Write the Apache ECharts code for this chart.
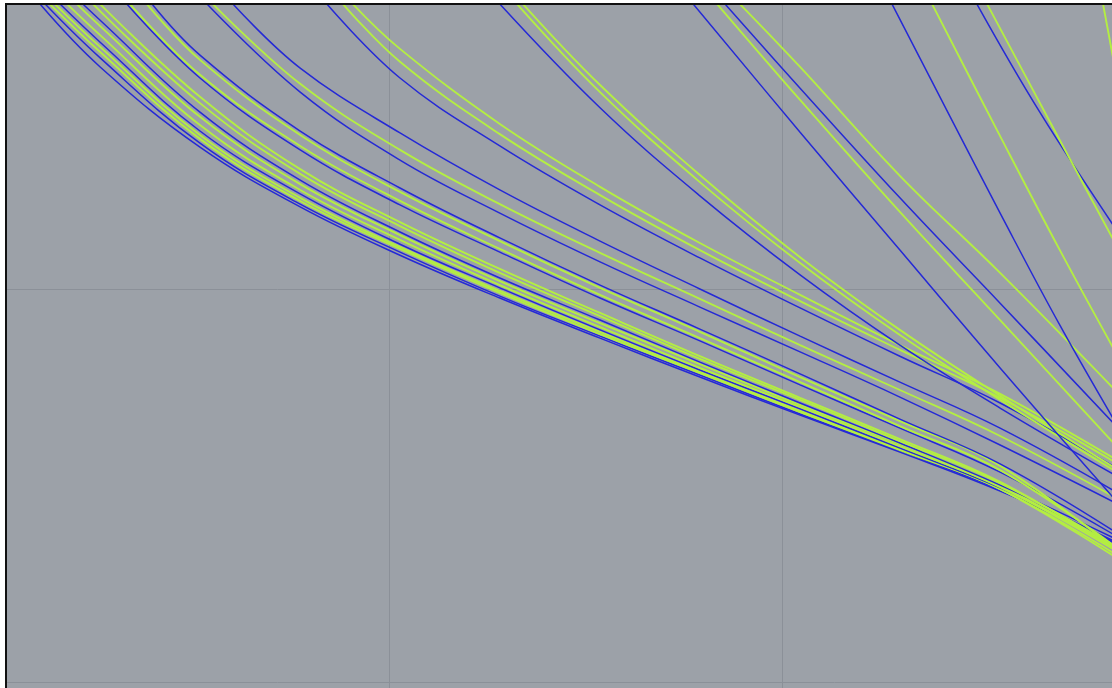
<!DOCTYPE html>
<html>
<head>
<meta charset="utf-8">
<script src="https://cdn.jsdelivr.net/npm/echarts@6/dist/echarts.min.js"></script>
<style>
  html, body { margin: 0; padding: 0; background: #fff; overflow: hidden; }
  #frame {
    position: absolute; left: 5px; top: 3px;
    width: 1105px; height: 683px;
    border-left: 2px solid #111; border-top: 2px solid #111;
    background: #9ca1a8; overflow: hidden;
  }
  #main { position: absolute; left: -7px; top: -5px; width: 1112px; height: 688px; }
</style>
</head>
<body>
<div id="frame"><div id="main"></div></div>
<script>
  // trajectories, [x, y] in plot units
  const bundleA = [
    [[0.112, 2.725], [0.265, 2.565], [0.519, 2.361], [0.774, 2.209], [1.028, 2.086], [1.282, 1.977], [1.537, 1.875], [1.791, 1.776], [2.046, 1.679], [2.300, 1.585], [2.555, 1.486], [2.860, 1.349]],
    [[0.125, 2.725], [0.265, 2.588], [0.519, 2.371], [0.774, 2.216], [1.028, 2.094], [1.282, 1.982], [1.537, 1.880], [1.791, 1.781], [2.046, 1.682], [2.300, 1.588], [2.555, 1.489], [2.860, 1.346]],
    [[0.137, 2.725], [0.265, 2.603], [0.519, 2.382], [0.774, 2.224], [1.028, 2.102], [1.282, 1.990], [1.537, 1.885], [1.791, 1.786], [2.046, 1.687], [2.300, 1.590], [2.555, 1.491], [2.860, 1.318]],
    [[0.150, 2.725], [0.265, 2.616], [0.519, 2.392], [0.774, 2.232], [1.028, 2.107], [1.282, 1.995], [1.537, 1.891], [1.791, 1.789], [2.046, 1.690], [2.300, 1.593], [2.555, 1.491], [2.860, 1.310]],
    [[0.163, 2.725], [0.265, 2.628], [0.519, 2.402], [0.774, 2.242], [1.028, 2.114], [1.282, 2.003], [1.537, 1.896], [1.791, 1.794], [2.046, 1.695], [2.300, 1.595], [2.555, 1.494], [2.860, 1.351]],
    [[0.181, 2.725], [0.265, 2.646], [0.519, 2.417], [0.774, 2.252], [1.028, 2.125], [1.282, 2.010], [1.537, 1.903], [1.791, 1.799], [2.046, 1.700], [2.300, 1.600], [2.555, 1.496], [2.860, 1.328]],
    [[0.206, 2.725], [0.265, 2.669], [0.519, 2.438], [0.774, 2.267], [1.028, 2.137], [1.282, 2.020], [1.537, 1.913], [1.791, 1.809], [2.046, 1.705], [2.300, 1.606], [2.555, 1.499], [2.860, 1.333]],
    [[0.221, 2.725], [0.265, 2.684], [0.519, 2.450], [0.774, 2.277], [1.028, 2.145], [1.282, 2.028], [1.537, 1.921], [1.791, 1.814], [2.046, 1.710], [2.300, 1.608], [2.555, 1.501], [2.860, 1.359]],
    [[0.247, 2.725], [0.519, 2.473], [0.774, 2.293], [1.028, 2.160], [1.282, 2.041], [1.537, 1.931], [1.791, 1.822], [2.046, 1.718], [2.300, 1.613], [2.555, 1.506], [2.860, 1.338]],
    [[0.265, 2.725], [0.519, 2.489], [0.774, 2.305], [1.028, 2.170], [1.282, 2.051], [1.537, 1.939], [1.791, 1.829], [2.046, 1.723], [2.300, 1.618], [2.555, 1.509], [2.860, 1.331]]
  ]
  const bundleAColors = ['b', 'b', 'g', 'g', 'b', 'g', 'g', 'b', 'g', 'g']

  const groupB = [
    [[0.333, 2.725], [0.519, 2.537], [0.774, 2.354], [1.028, 2.214], [1.282, 2.094], [1.537, 1.977], [1.791, 1.868], [2.046, 1.756], [2.300, 1.646], [2.555, 1.534], [2.860, 1.366]],
    [[0.341, 2.725], [0.519, 2.545], [0.774, 2.364], [1.028, 2.224], [1.282, 2.102], [1.537, 1.985], [1.791, 1.875], [2.046, 1.763], [2.300, 1.651], [2.555, 1.539], [2.860, 1.336]],
    [[0.384, 2.725], [0.519, 2.583], [0.774, 2.392], [1.028, 2.247], [1.282, 2.122], [1.537, 2.003], [1.791, 1.891], [2.046, 1.776], [2.300, 1.664], [2.555, 1.550], [2.860, 1.328]],
    [[0.397, 2.725], [0.519, 2.595], [0.774, 2.402], [1.028, 2.257], [1.282, 2.130], [1.537, 2.010], [1.791, 1.898], [2.046, 1.784], [2.300, 1.669], [2.555, 1.555], [2.860, 1.374]]
  ]
  const groupBColors = ['b', 'g', 'g', 'b']

  const groupC = [
    [[0.537, 2.725], [0.774, 2.501], [1.028, 2.328], [1.282, 2.193], [1.537, 2.069], [1.791, 1.954], [2.046, 1.840], [2.300, 1.725], [2.555, 1.603], [2.860, 1.450]],
    [[0.552, 2.725], [0.774, 2.522], [1.028, 2.354], [1.282, 2.216], [1.537, 2.092], [1.791, 1.975], [2.046, 1.857], [2.300, 1.743], [2.555, 1.626], [2.860, 1.463]],
    [[0.603, 2.725], [0.774, 2.562], [1.028, 2.397], [1.282, 2.252], [1.537, 2.122], [1.791, 2.000], [2.046, 1.880], [2.300, 1.763], [2.555, 1.646], [2.860, 1.478]]
  ]
  const groupCColors = ['b', 'g', 'b']

  const groupD = [
    [[0.842, 2.725], [1.028, 2.537], [1.282, 2.364], [1.537, 2.214], [1.791, 2.079], [2.046, 1.952], [2.300, 1.829], [2.555, 1.710], [2.860, 1.539]],
    [[0.883, 2.725], [1.028, 2.578], [1.282, 2.394], [1.537, 2.239], [1.791, 2.099], [2.046, 1.969], [2.300, 1.845], [2.555, 1.723], [2.860, 1.552]],
    [[0.908, 2.725], [1.028, 2.611], [1.282, 2.420], [1.537, 2.260], [1.791, 2.117], [2.046, 1.985], [2.300, 1.857], [2.555, 1.733], [2.860, 1.560]]
  ]
  const groupDColors = ['b', 'g', 'g']

  const groupE = [
    [[1.282, 2.725], [1.537, 2.461], [1.791, 2.237], [2.046, 2.036], [2.300, 1.857], [2.555, 1.697], [2.860, 1.519]],
    [[1.326, 2.725], [1.537, 2.501], [1.791, 2.272], [2.046, 2.066], [2.300, 1.883], [2.555, 1.718], [2.860, 1.529]],
    [[1.341, 2.725], [1.537, 2.519], [1.791, 2.290], [2.046, 2.081], [2.300, 1.896], [2.555, 1.728], [2.860, 1.537]]
  ]
  const groupEColors = ['b', 'g', 'g']

  const groupF = [
    [[1.774, 2.725], [2.046, 2.399], [2.300, 2.099], [2.555, 1.799], [2.860, 1.450]],
    [[1.835, 2.725], [2.046, 2.481], [2.300, 2.196], [2.555, 1.921], [2.860, 1.590]],
    [[1.855, 2.725], [2.046, 2.511], [2.300, 2.232], [2.555, 1.964], [2.860, 1.641]],
    [[1.893, 2.725], [2.046, 2.565], [2.300, 2.288], [2.555, 2.041], [2.860, 1.730]]
  ]
  const groupFColors = ['b', 'g', 'b', 'g']

  const groupG = [
    [[2.280, 2.725], [2.427, 2.440], [2.555, 2.193], [2.707, 1.908], [2.860, 1.641]],
    [[2.382, 2.725], [2.555, 2.389], [2.707, 2.099], [2.860, 1.819]],
    [[2.496, 2.725], [2.656, 2.450], [2.860, 2.137]],
    [[2.522, 2.725], [2.682, 2.425], [2.860, 2.094]],
    [[2.817, 2.725], [2.860, 2.494]]
  ]
  const groupGColors = ['b', 'g', 'b', 'g', 'g']

  const palette = { b: '#2529d6', g: '#b4ee42' }
  const widths = { b: 1.5, g: 1.9 }

  let chart = echarts.init(document.getElementById('main'))

  let groups = [
    [bundleA, bundleAColors], [groupB, groupBColors], [groupC, groupCColors],
    [groupD, groupDColors], [groupE, groupEColors], [groupF, groupFColors], [groupG, groupGColors]
  ]
  let series = []
  for (let i = 0; i < groups.length; i++) {
    let curves = groups[i][0]
    let colors = groups[i][1]
    for (let j = 0; j < curves.length; j++) {
      series.push({
        type: 'line',
        data: curves[j],
        smooth: 0.4,
        showSymbol: false,
        silent: true,
        lineStyle: { width: widths[colors[j]], color: palette[colors[j]] }
      })
    }
  }

  let hiddenAxis = {
    type: 'value',
    min: 0,
    max: 3,
    interval: 1,
    axisLine: { show: false },
    axisTick: { show: false },
    axisLabel: { show: false },
    splitLine: { show: true, lineStyle: { color: '#8b9098', width: 1 } }
  }

  // the plot is a zoomed-in crop: the grid runs past the canvas on every side
  chart.setOption({
    animation: false,
    backgroundColor: 'transparent',
    grid: {
      left: -4, top: -104, width: 1179, height: 1179,
      show: false, containLabel: false, outerBoundsMode: 'none'
    },
    xAxis: hiddenAxis,
    yAxis: hiddenAxis,
    series: series
  })
</script>
</body>
</html>
